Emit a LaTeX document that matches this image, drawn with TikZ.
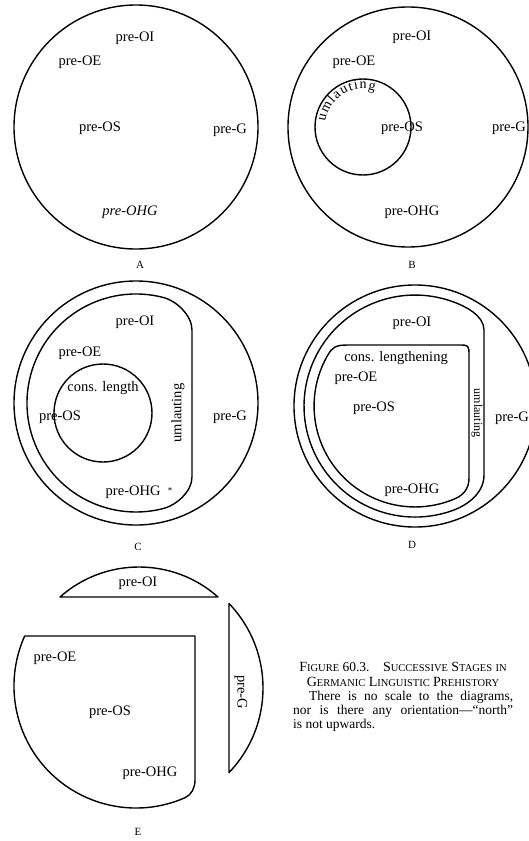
\documentclass[tikz,border=0pt]{standalone}
\usepackage{fontspec}
\setmainfont{Liberation Serif}
\usetikzlibrary{decorations.text}

% fake small caps for the caption
\newcommand{\capsc}[2]{{\fontsize{14}{14}\selectfont #1}{\fontsize{10.5}{14}\selectfont #2}}

\begin{document}
\begin{tikzpicture}[x=1pt, y=1pt,
  ring/.style={line width=1.4pt, line join=round},
  lbl/.style={font=\fontsize{14.5}{16}\selectfont, inner sep=1pt},
  tag/.style={font=\fontsize{11}{13}\selectfont, inner sep=1pt},
  capline/.style={font=\fontsize{13.5}{14}\selectfont, inner sep=0pt, anchor=base west}]

  \fill[white] (0,0) rectangle (529,-841);
  \useasboundingbox (0,0) rectangle (529,-841);

  %--- A: one area
  \draw[ring] (136,-127) circle[radius=122];
  \node[lbl] (aOI)  at (135,-38)  {pre-OI};
  \node[lbl] (aOE)  at (80,-62)   {pre-OE};
  \node[lbl] (aOS)  at (100,-128) {pre-OS};
  \node[lbl] (aG)   at (230,-130) {pre-G};
  \node[lbl] (aOHG) at (130,-212) {\itshape pre-OHG};
  \node[tag] (tagA) at (140,-265) {A};

  %--- B: umlauting round pre-OS
  \coordinate (bin) at (363,-127);
  \draw[ring] (408,-127) circle[radius=120];
  \draw[ring] (bin) circle[radius=48];
  \path[decorate, decoration={text along path, text format delimiters={|}{|},
      text={|\fontsize{14}{16}\selectfont|umlauting}, text align={fit to path}}]
    ([shift={(172:38pt)}]bin) arc[start angle=172, end angle=72, radius=38pt];
  \node[lbl] (bOI)  at (412,-37)  {pre-OI};
  \node[lbl] (bOE)  at (354,-62)  {pre-OE};
  \node[lbl] (bOS)  at (402,-128) {pre-OS};
  \node[lbl] (bG)   at (509,-128) {pre-G};
  \node[lbl] (bOHG) at (412,-212) {pre-OHG};
  \node[tag] (tagB) at (412,-265) {B};

  %--- C: umlauting spreads, cons. length round pre-OS
  \draw[ring] (136,-403) circle[radius=122];
  \draw[ring] (192,-477) -- (192,-330)
    .. controls (192,-315) and (175.8,-300.8) .. (164.2,-297.7)
    arc[start angle=75, end angle=285, radius=109]
    .. controls (175.8,-505.2) and (192,-492) .. cycle;
  \draw[ring] (103,-413) circle[radius=49];
  \node[lbl] (cOI)  at (135,-322) {pre-OI};
  \node[lbl] (cOE)  at (80,-353)  {pre-OE};
  \node[lbl] (cCons) at (103,-388) {cons. length};
  \node[lbl] (cOS)  at (60,-417)  {pre-OS};
  \node[lbl] (cG)   at (230,-417) {pre-G};
  \node[lbl] (cOHG) at (139,-492) {pre-OHG\enspace\raisebox{1.5pt}{\small*}};
  \node[lbl, rotate=90] (cUm) at (178,-413) {umlauting};
  \node[tag] (tagC) at (138,-547) {C};

  %--- D: cons. lengthening inside umlauting
  \draw[ring] (415,-406) circle[radius=121];
  \draw[ring] (484,-475) -- (484,-330)
    .. controls (484,-315) and (464.3,-306.1) .. (455,-302.5)
    arc[start angle=68.9, end angle=291.1, radius=111]
    .. controls (464.3,-505.9) and (484,-495) .. cycle;
  \draw[ring] (348,-345) -- (458,-345)
    .. controls (469,-345) .. (469,-356) -- (469,-478)
    .. controls (469,-488) and (464.2,-494.7) .. (455,-498.7)
    arc[start angle=-66.7, end angle=-210, radius=101]
    .. controls (332.5,-346.8) and (336,-345) .. cycle;
  \node[lbl] (dOI)  at (412,-323) {pre-OI};
  \node[lbl] (dCons) at (396,-358) {cons. lengthening};
  \node[lbl] (dOE)  at (356,-378) {pre-OE};
  \node[lbl] (dOS)  at (374,-408) {pre-OS};
  \node[lbl] (dOHG) at (412,-490) {pre-OHG};
  \node[lbl] (dG)   at (512,-418) {pre-G};
  \node[lbl, font=\fontsize{12}{14}\selectfont, inner sep=0pt, rotate=-90]
    (dUm) at (477,-413) {umlauting};
  \node[tag] (tagD) at (412,-545) {D};

  %--- E: the pieces apart
  \draw[ring] (60,-597) -- (218,-597)
    arc[start angle=48.4, end angle=131.6, radius=119] -- cycle;
  \draw[ring] (229,-772.5) -- (229,-603.5)
    arc[start angle=43.85, end angle=-43.85, radius=122] -- cycle;
  \draw[ring] (24.7,-636) -- (195,-636) -- (195,-780)
    .. controls (195,-788) and (191.4,-794.9) .. (185,-797.7)
    arc[start angle=-66.3, end angle=-204.2, radius=122] -- cycle;
  \node[lbl] (eOI)  at (138,-583) {pre-OI};
  \node[lbl] (eOE)  at (55,-658)  {pre-OE};
  \node[lbl] (eOS)  at (110,-712) {pre-OS};
  \node[lbl] (eOHG) at (150,-773) {pre-OHG};
  \node[lbl, rotate=-90] (eG) at (241,-692) {pre-G};
  \node[tag] (tagE) at (138,-832) {E};

  %--- Caption
  \node[capline, anchor=base] (cap1) at (403,-671)
    {\capsc{F}{IGURE} 60.3.\quad \capsc{S}{UCCESSIVE} \capsc{S}{TAGES} \capsc{}{IN}};
  \node[capline, anchor=base] (cap2) at (403,-686)
    {\capsc{G}{ERMANIC} \capsc{L}{INGUISTIC} \capsc{P}{REHISTORY}};
  \node[capline] (cap3) at (309,-700) {\makebox[204pt][s]{There is no scale to the diagrams,}};
  \node[capline] (cap4) at (293,-714) {\makebox[220pt][s]{nor is there any orientation---``north''}};
  \node[capline] (cap5) at (293,-728) {is not upwards.};

\end{tikzpicture}
\end{document}
